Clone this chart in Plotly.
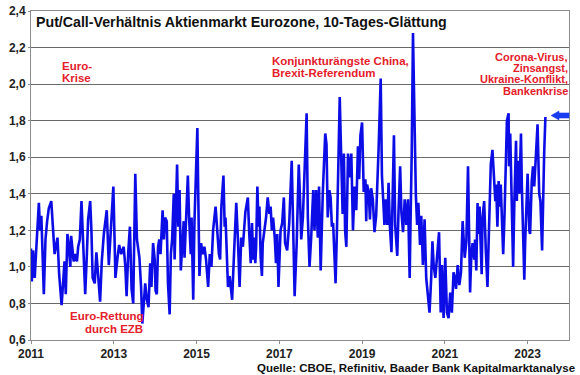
import plotly.graph_objects as go

# ---- data ----
years = [
    2011.00, 2011.02, 2011.05, 2011.09, 2011.13, 2011.19, 2011.22, 2011.25, 2011.31, 2011.35, 2011.39, 2011.43, 2011.49,
    2011.53, 2011.57, 2011.64, 2011.68, 2011.74, 2011.78, 2011.81, 2011.84, 2011.88, 2011.91, 2011.95, 2011.97,
    2012.03, 2012.07, 2012.11, 2012.14, 2012.18, 2012.22, 2012.25, 2012.31, 2012.35, 2012.38, 2012.43, 2012.46, 2012.49,
    2012.54, 2012.58, 2012.67, 2012.71, 2012.76, 2012.83, 2012.88, 2012.99,
    2013.04, 2013.09, 2013.13, 2013.18, 2013.24, 2013.28, 2013.31, 2013.35, 2013.39, 2013.43, 2013.47, 2013.52, 2013.56,
    2013.62, 2013.66, 2013.69, 2013.73, 2013.76, 2013.80, 2013.84, 2013.88, 2013.91, 2013.95, 2013.99,
    2014.01, 2014.04, 2014.07, 2014.10, 2014.13, 2014.15, 2014.18, 2014.21, 2014.24, 2014.28, 2014.31, 2014.35, 2014.38,
    2014.41, 2014.45, 2014.47, 2014.50, 2014.53, 2014.56, 2014.59, 2014.62, 2014.66, 2014.69, 2014.71, 2014.75, 2014.79,
    2014.82, 2014.86, 2014.88, 2014.92, 2014.95,
    2015.02, 2015.04, 2015.07, 2015.11, 2015.15, 2015.19, 2015.23, 2015.28, 2015.32, 2015.36, 2015.40, 2015.46, 2015.49,
    2015.54, 2015.57, 2015.60, 2015.65, 2015.68, 2015.70, 2015.76, 2015.80, 2015.86, 2015.90, 2015.96,
    2016.00, 2016.04, 2016.08, 2016.12, 2016.18, 2016.24, 2016.27, 2016.31, 2016.34, 2016.37, 2016.39, 2016.42, 2016.44,
    2016.47, 2016.50, 2016.52, 2016.55, 2016.58, 2016.60, 2016.64, 2016.68, 2016.72, 2016.76, 2016.79, 2016.82, 2016.85,
    2016.89, 2016.92, 2016.95, 2016.98,
    2017.01, 2017.03, 2017.07, 2017.11, 2017.14, 2017.19, 2017.24, 2017.30, 2017.34, 2017.37, 2017.42, 2017.47, 2017.50,
    2017.53, 2017.57, 2017.66, 2017.69, 2017.73, 2017.77, 2017.82, 2017.85, 2017.89, 2017.93, 2017.96,
    2018.00, 2018.05, 2018.11, 2018.14, 2018.17, 2018.21, 2018.24, 2018.27, 2018.30, 2018.36, 2018.40, 2018.43, 2018.46,
    2018.50, 2018.53, 2018.56, 2018.59, 2018.62, 2018.66, 2018.70, 2018.74, 2018.78, 2018.82, 2018.86, 2018.90, 2018.93,
    2018.96,
    2019.00, 2019.02, 2019.04, 2019.08, 2019.10, 2019.12, 2019.16, 2019.19, 2019.22, 2019.26, 2019.30, 2019.34, 2019.37,
    2019.40, 2019.45, 2019.48, 2019.51, 2019.54, 2019.57, 2019.61, 2019.64, 2019.67, 2019.71, 2019.77, 2019.80, 2019.85,
    2019.88, 2019.92, 2019.95, 2019.99,
    2020.03, 2020.07, 2020.11, 2020.15, 2020.17, 2020.20, 2020.23, 2020.27, 2020.30, 2020.33, 2020.36, 2020.40, 2020.43,
    2020.47, 2020.51, 2020.55, 2020.59, 2020.63, 2020.67, 2020.70, 2020.73, 2020.77, 2020.86, 2020.90, 2020.93, 2020.97,
    2021.01, 2021.05, 2021.09, 2021.13, 2021.17, 2021.21, 2021.24, 2021.27, 2021.31, 2021.35, 2021.39, 2021.43, 2021.48,
    2021.52, 2021.56, 2021.59, 2021.61, 2021.64, 2021.67, 2021.71, 2021.73, 2021.76, 2021.79, 2021.81, 2021.84, 2021.86,
    2021.89, 2021.91, 2021.95, 2021.99,
    2022.03, 2022.06, 2022.08, 2022.11, 2022.15, 2022.18, 2022.22, 2022.24, 2022.27, 2022.30, 2022.33, 2022.35, 2022.41,
    2022.44, 2022.47, 2022.50, 2022.54, 2022.55, 2022.58, 2022.60, 2022.65, 2022.68, 2022.72, 2022.74, 2022.76, 2022.80,
    2022.84, 2022.86, 2022.89, 2022.92, 2022.94,
    2023.00, 2023.04, 2023.06, 2023.10, 2023.13, 2023.16, 2023.20, 2023.24, 2023.28, 2023.31, 2023.35, 2023.38, 2023.40,
    2023.43,
]

put_call_ratio = [
    1.10, 0.92, 1.09, 0.94, 1.11, 1.35, 1.20, 1.28, 0.85, 1.15, 1.25, 1.32, 1.36,
    1.23, 1.07, 1.16, 0.96, 0.79, 0.94, 1.03, 0.85, 1.18, 1.12, 1.00, 1.17,
    1.03, 1.07, 1.03, 1.11, 1.15, 1.36, 1.20, 0.85, 1.07, 1.26, 1.36, 1.20, 0.94,
    0.91, 1.08, 0.81, 1.03, 1.18, 1.31, 1.01, 1.44,
    0.94, 1.05, 1.12, 1.07, 1.11, 1.00, 0.84, 1.08, 1.22, 0.88, 0.80, 1.51, 1.15,
    1.05, 0.89, 0.69, 0.85, 0.91, 0.82, 0.78, 1.02, 0.89, 1.13, 1.04,
    0.87, 0.85, 1.11, 1.15, 1.07, 1.22, 1.31, 1.15, 1.27, 1.25, 0.91, 0.74, 1.07,
    1.15, 1.40, 1.04, 1.36, 1.56, 1.22, 1.42, 0.98, 1.15, 1.25, 1.05, 1.33, 1.50,
    1.27, 1.07, 1.27, 0.82, 1.25,
    1.76, 1.42, 0.95, 1.13, 1.07, 1.11, 1.04, 0.89, 1.07, 1.00, 1.20, 1.33, 1.22,
    1.07, 1.04, 1.33, 1.50, 1.22, 1.27, 0.89, 0.95, 0.82, 1.04, 1.35,
    1.15, 0.89, 1.16, 1.11, 1.30, 1.38, 1.20, 1.02, 1.24, 1.04, 1.16, 1.02, 1.11,
    1.44, 1.22, 1.33, 1.05, 0.95, 1.13, 1.20, 1.27, 1.38, 1.29, 1.33, 1.20, 1.27,
    1.16, 1.02, 1.18, 0.89,
    1.09, 1.20, 1.24, 1.38, 1.13, 1.09, 1.24, 1.58, 1.16, 0.84, 1.13, 1.56, 1.38,
    1.15, 1.27, 1.84, 1.27, 1.00, 1.16, 1.42, 1.20, 1.42, 1.16, 1.44,
    0.98, 1.40, 1.73, 1.67, 1.27, 1.42, 1.38, 1.22, 1.24, 0.91, 1.27, 1.65, 1.93,
    1.56, 1.29, 1.62, 1.20, 1.11, 1.62, 1.49, 1.62, 1.20, 1.44, 1.31, 1.66, 1.48,
    1.72,
    1.79, 1.55, 1.41, 1.48, 1.25, 1.45, 1.41, 1.26, 1.43, 1.37, 1.19, 1.28, 1.45,
    1.65, 2.03, 1.50, 1.37, 1.23, 1.37, 1.23, 1.46, 1.23, 1.08, 1.72, 1.23, 1.06,
    1.30, 1.55, 1.30, 1.19,
    1.37, 1.23, 1.37, 0.94, 1.23, 1.63, 2.28, 1.68, 1.39, 1.23, 1.35, 1.12, 1.28,
    1.01, 1.26, 0.94, 0.85, 0.75, 0.94, 1.14, 1.01, 0.94, 1.19, 0.75, 1.01, 0.72,
    1.05, 0.75, 0.72, 0.86, 0.75, 0.97, 0.94, 0.88, 1.01, 0.90, 0.97, 1.25, 1.05,
    1.14, 1.55, 1.22, 0.86, 1.07, 1.13, 1.04, 1.15, 0.98, 1.35, 1.18, 1.33, 1.16,
    0.96, 1.27, 1.36, 1.09,
    0.89, 1.15, 1.36, 1.56, 1.64, 1.51, 1.36, 1.45, 1.22, 1.47, 1.33, 1.45, 1.07,
    1.27, 1.53, 1.80, 1.84, 1.55, 1.73, 1.47, 1.00, 1.36, 1.69, 1.36, 1.58, 1.40,
    1.73, 1.45, 1.13, 0.93, 1.13,
    1.51, 1.20, 1.18, 1.47, 1.55, 1.44, 1.58, 1.78, 1.40, 1.36, 1.09, 1.49, 1.62,
    1.82,
]
assert len(years) == len(put_call_ratio)

x_tick_values = [2011, 2013, 2015, 2017, 2019, 2021, 2023]
x_tick_labels = ["2011", "2013", "2015", "2017", "2019", "2021", "2023"]
y_tick_values = [0.6, 0.8, 1.0, 1.2, 1.4, 1.6, 1.8, 2.0, 2.2, 2.4]
y_tick_labels = ["0,6", "0,8", "1,0", "1,2", "1,4", "1,6", "1,8", "2,0", "2,2", "2,4"]

title_text = "Put/Call-Verhältnis Aktienmarkt Eurozone, 10-Tages-Glättung"
source_text = "Quelle: CBOE, Refinitiv, Baader Bank Kapitalmarktanalyse"

# ---- styling ----
FONT = "Arial, 'Liberation Sans', sans-serif"
RED = "#e3202a"
BLUE = "#0c0ce6"
GRID = "#6a6a6a"
BORDER = "#8c8c8c"

fig = go.Figure()
fig.add_trace(go.Scatter(
    x=years, y=put_call_ratio, mode="lines",
    line=dict(color=BLUE, width=2.6),
    hoverinfo="skip", showlegend=False,
))

fig.update_layout(
    width=580, height=375,
    margin=dict(l=31, r=11, t=11, b=35, autoexpand=False),
    paper_bgcolor="white", plot_bgcolor="white",
    font=dict(family=FONT, size=12, color="#222"),
    showlegend=False,
)
fig.update_xaxes(
    range=[2011, 2024], automargin=False,
    tickvals=x_tick_values, ticktext=x_tick_labels,
    showgrid=False, zeroline=False,
    showline=True, linecolor=BORDER, linewidth=1, mirror=True,
    ticks="outside", ticklen=3, tickcolor=BORDER,
    tickfont=dict(family=FONT, size=12, color="#222", weight="bold"),
)
fig.update_yaxes(
    range=[0.6, 2.4], automargin=False,
    tickvals=y_tick_values, ticktext=y_tick_labels,
    showgrid=True, gridcolor=GRID, gridwidth=1, zeroline=False,
    showline=True, linecolor=BORDER, linewidth=1, mirror=True,
    ticks="outside", ticklen=2, tickcolor=BORDER,
    tickfont=dict(family=FONT, size=12, color="#222", weight="bold"),
)

def pxx(px):  # pixel x -> paper
    return (px - 31) / 538.0

def pxy(py):  # pixel y -> paper
    return (340 - py) / 329.0

RS = 11.5
RS2 = 11
annotations = [
    dict(text=f"<b>{title_text}</b>", x=pxx(35), y=pxy(22), xanchor="left",
         font=dict(size=14.2, color="#111")),
    dict(text="<b>Euro-</b>", x=pxx(61), y=pxy(66), xanchor="left", font=dict(size=RS, color=RED)),
    dict(text="<b>Krise</b>", x=pxx(61), y=pxy(78), xanchor="left", font=dict(size=RS, color=RED)),
    dict(text="<b>Euro-Rettung</b>", x=pxx(144), y=pxy(316), xanchor="right", font=dict(size=RS, color=RED)),
    dict(text="<b>durch EZB</b>", x=pxx(144), y=pxy(328.5), xanchor="right", font=dict(size=RS, color=RED)),
    dict(text="<b>Konjunkturängste China,</b>", x=pxx(271), y=pxy(61), xanchor="left", font=dict(size=RS, color=RED)),
    dict(text="<b>Brexit-Referendum</b>", x=pxx(271), y=pxy(73), xanchor="left", font=dict(size=RS, color=RED)),
    dict(text="<b>Corona-Virus,</b>", x=pxx(569), y=pxy(56.5), xanchor="right", font=dict(size=RS2, color=RED)),
    dict(text="<b>Zinsangst,</b>", x=pxx(569), y=pxy(68), xanchor="right", font=dict(size=RS2, color=RED)),
    dict(text="<b>Ukraine-Konflikt,</b>", x=pxx(569), y=pxy(79.5), xanchor="right", font=dict(size=RS2, color=RED)),
    dict(text="<b>Bankenkrise</b>", x=pxx(569), y=pxy(91), xanchor="right", font=dict(size=RS2, color=RED)),
]
for a in annotations:
    a.update(xref="paper", yref="paper", yanchor="middle", showarrow=False, borderpad=0)
    fig.add_annotation(**a)

fig.add_annotation(
    text=f"<b>{source_text}</b>", xref="paper", yref="paper",
    x=pxx(576), y=pxy(367.5), xanchor="right", yanchor="middle", showarrow=False,
    borderpad=0, font=dict(size=11.5, color="#111"),
)

# blue block arrow at the right edge
tip_x, head_x, end_x = pxx(551), pxx(559), pxx(569)
mid_y = pxy(115.5)
hh, sh = 4.5 / 329.0, 2.6 / 329.0
path = (f"M {tip_x},{mid_y} L {head_x},{mid_y + hh} L {head_x},{mid_y + sh} "
        f"L {end_x},{mid_y + sh} L {end_x},{mid_y - sh} L {head_x},{mid_y - sh} "
        f"L {head_x},{mid_y - hh} Z")
fig.add_shape(type="path", path=path, xref="paper", yref="paper",
              fillcolor="#1a3cf0", line=dict(color="#1a3cf0", width=0.5))

fig.write_html(
    "out.html",
    config={"displayModeBar": False},
    post_script="document.body.style.margin='0';document.body.style.padding='0';",
)
